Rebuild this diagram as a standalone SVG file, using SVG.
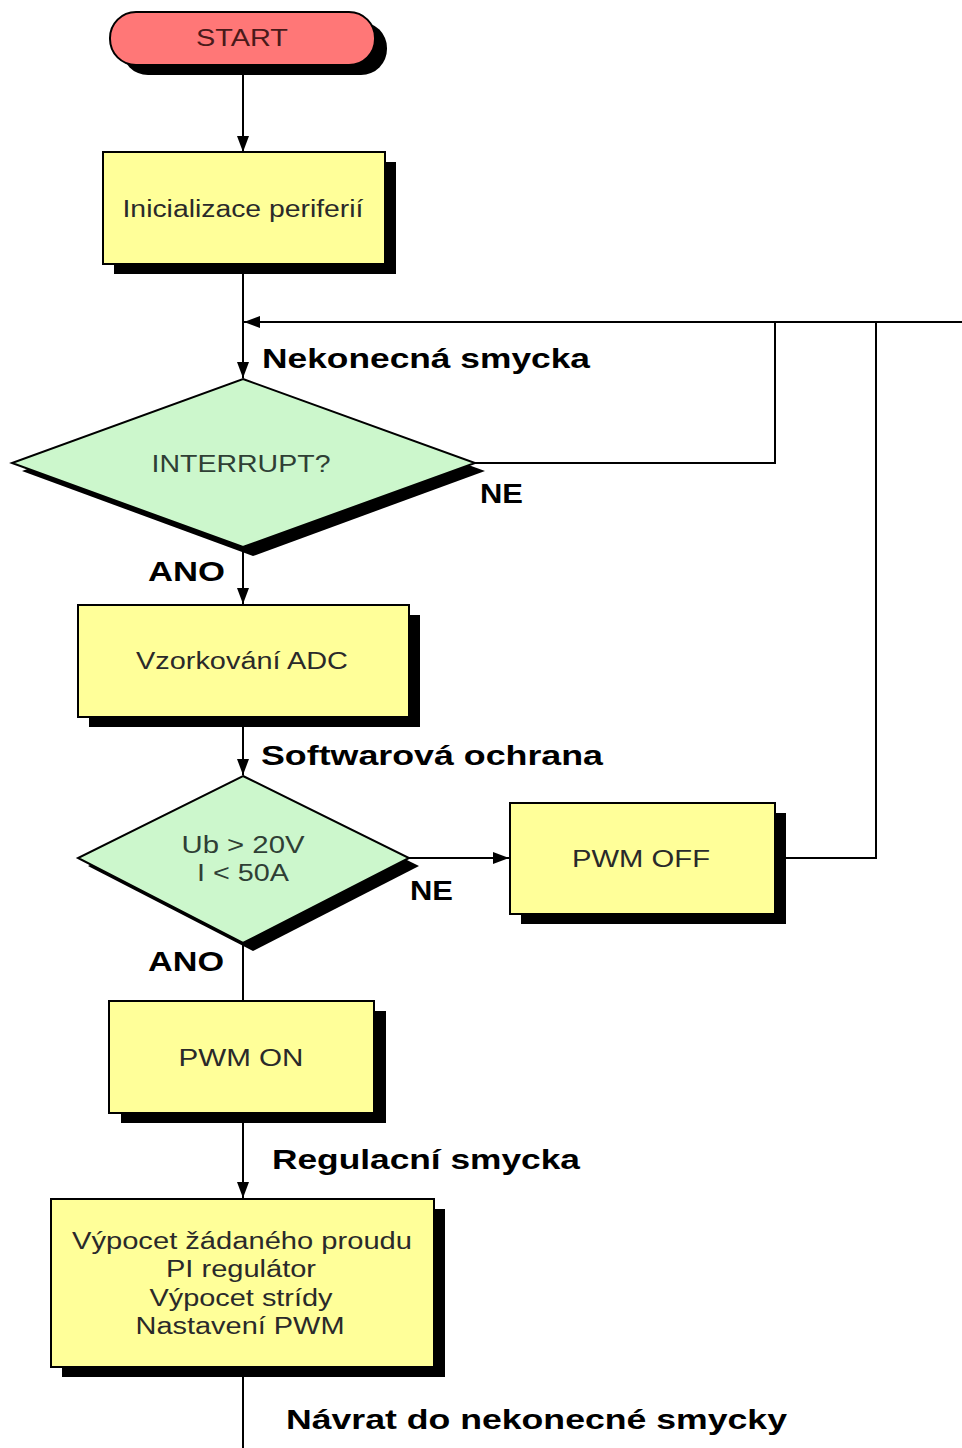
<svg xmlns="http://www.w3.org/2000/svg" width="962" height="1448" viewBox="0 0 962 1448">
<style>
.sh{fill:#000}
.box{fill:#FFFF99;stroke:#000;stroke-width:2}
.dia{fill:#CCF7CC;stroke:#000;stroke-width:2}
.term{fill:#FF7777;stroke:#000;stroke-width:2}
.t{font-family:"Liberation Sans",Arial,sans-serif;font-size:23px;fill:#2a2a2a;text-anchor:middle}
.b{font-family:"Liberation Sans",Arial,sans-serif;font-size:28px;font-weight:bold;fill:#000}
.c{fill:none;stroke:#000;stroke-width:2}
</style>
<defs>
<marker id="ah" viewBox="0 0 10 10" refX="10" refY="5" markerWidth="10" markerHeight="10" markerUnits="userSpaceOnUse" orient="auto"><path d="M0,0 L10,5 L0,10 z" fill="#000"/></marker>
<marker id="ahl" viewBox="0 0 16 12" refX="16" refY="6" markerWidth="16" markerHeight="12" markerUnits="userSpaceOnUse" orient="auto"><path d="M0,0 L16,6 L0,12 z" fill="#000"/></marker>
</defs>
<rect width="962" height="1448" fill="#fff"/>
<g id="connectors">
<path class="c" d="M243,65 V152" marker-end="url(#ahl)"/>
<path class="c" d="M243,264 V378" marker-end="url(#ahl)"/>
<path class="c" d="M962,322 H244" marker-end="url(#ahl)"/>
<path class="c" d="M475,463 H775 V322"/>
<path class="c" d="M786,858 H876 V322"/>
<path class="c" d="M243,547 V604" marker-end="url(#ahl)"/>
<path class="c" d="M243,717 V775" marker-end="url(#ahl)"/>
<path class="c" d="M409,858 H509" marker-end="url(#ahl)"/>
<path class="c" d="M243,943 V1001"/>
<path class="c" d="M243,1113 V1198" marker-end="url(#ahl)"/>
<path class="c" d="M243,1367 V1448"/>
</g>
<g id="start">
<rect class="sh" x="122" y="22" width="265" height="53" rx="26"/>
<rect class="term" x="110" y="12" width="265" height="53" rx="26"/>
<text class="t" x="242" y="46" fill="#4a1a1a" style="fill:#4a1a1a" textLength="92" lengthAdjust="spacingAndGlyphs">START</text>
</g>
<g id="init">
<rect class="sh" x="114" y="162" width="282" height="112"/>
<rect class="box" x="103" y="152" width="282" height="112"/>
<text class="t" x="243" y="217" textLength="241" lengthAdjust="spacingAndGlyphs">Inicializace periferií</text>
</g>
<g id="interrupt">
<polygon class="sh" points="253,387 485,471 253,556 22,471"/>
<polygon class="dia" points="243,379 475,463 243,547 12,463"/>
<text class="t" x="241" y="472" style="fill:#2f3f35" textLength="179" lengthAdjust="spacingAndGlyphs">INTERRUPT?</text>
</g>
<g id="adc">
<rect class="sh" x="89" y="615" width="331" height="112"/>
<rect class="box" x="78" y="605" width="331" height="112"/>
<text class="t" x="242" y="669" textLength="212" lengthAdjust="spacingAndGlyphs">Vzorkování ADC</text>
</g>
<g id="check">
<polygon class="sh" points="253,784 419,866 253,951 88,866"/>
<polygon class="dia" points="243,776 409,858 243,943 78,858"/>
<text class="t" x="243" y="853" style="fill:#2f3f35" textLength="123" lengthAdjust="spacingAndGlyphs">Ub &gt; 20V</text>
<text class="t" x="243" y="881" style="fill:#2f3f35" textLength="92" lengthAdjust="spacingAndGlyphs">I &lt; 50A</text>
</g>
<g id="pwmoff">
<rect class="sh" x="521" y="813" width="265" height="111"/>
<rect class="box" x="510" y="803" width="265" height="111"/>
<text class="t" x="641" y="867" textLength="138" lengthAdjust="spacingAndGlyphs">PWM OFF</text>
</g>
<g id="pwmon">
<rect class="sh" x="121" y="1011" width="265" height="112"/>
<rect class="box" x="109" y="1001" width="265" height="112"/>
<text class="t" x="241" y="1066" textLength="125" lengthAdjust="spacingAndGlyphs">PWM ON</text>
</g>
<g id="regulace">
<rect class="sh" x="62" y="1209" width="383" height="168"/>
<rect class="box" x="51" y="1199" width="383" height="168"/>
<text class="t" x="242" y="1249" textLength="340" lengthAdjust="spacingAndGlyphs">Výpocet žádaného proudu</text>
<text class="t" x="241" y="1277" textLength="150" lengthAdjust="spacingAndGlyphs">PI regulátor</text>
<text class="t" x="241" y="1306" textLength="183" lengthAdjust="spacingAndGlyphs">Výpocet strídy</text>
<text class="t" x="240" y="1334" textLength="209" lengthAdjust="spacingAndGlyphs">Nastavení PWM</text>
</g>
<g id="labels">
<text class="b" x="262" y="368" textLength="328" lengthAdjust="spacingAndGlyphs">Nekonecná smycka</text>
<text class="b" x="480" y="503" textLength="43" lengthAdjust="spacingAndGlyphs">NE</text>
<text class="b" x="148" y="581" textLength="77" lengthAdjust="spacingAndGlyphs">ANO</text>
<text class="b" x="261" y="765" textLength="342" lengthAdjust="spacingAndGlyphs">Softwarová ochrana</text>
<text class="b" x="410" y="900" textLength="43" lengthAdjust="spacingAndGlyphs">NE</text>
<text class="b" x="148" y="971" textLength="76" lengthAdjust="spacingAndGlyphs">ANO</text>
<text class="b" x="272" y="1169" textLength="308" lengthAdjust="spacingAndGlyphs">Regulacní smycka</text>
<text class="b" x="286" y="1429" textLength="501" lengthAdjust="spacingAndGlyphs">Návrat do nekonecné smycky</text>
</g>
</svg>
